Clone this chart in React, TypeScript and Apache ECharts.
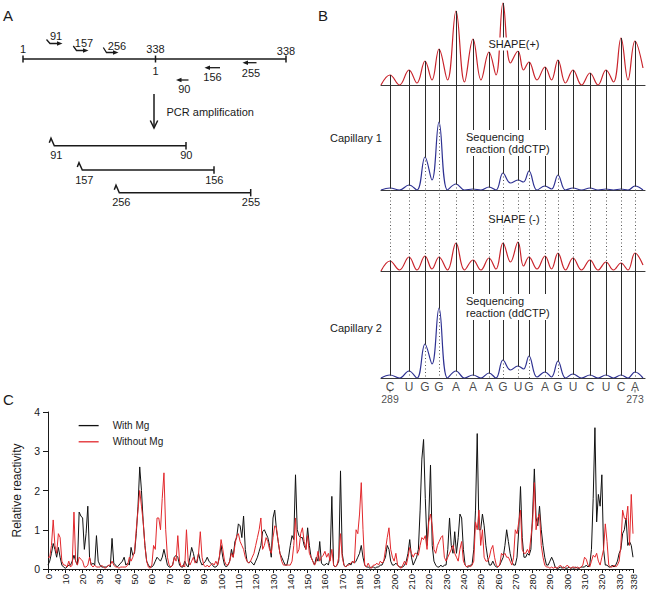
import React, { useEffect, useRef } from 'react';
import * as echarts from 'echarts';

const FONT = '"Liberation Sans", Arial, Helvetica, sans-serif';
const INK = '#1a1a1a';

// ---------------- Panel C data ----------------
const ntPositions: string[] = Array.from({ length: 339 }, (_, i) => String(i));
const xLabelTicks = [0, 10, 20, 30, 40, 50, 60, 70, 80, 90, 100, 110, 120, 130, 140, 150, 160, 170, 180, 190,
  200, 210, 220, 230, 240, 250, 260, 270, 280, 290, 300, 310, 320, 330, 338];
const legendNames = ['With Mg', 'Without Mg'];

const withMg = [
  0.1, 0.2, 0.4, 0.65, 0.5, 0.3, 0.55, 0.3, 0.1, 0.05,
  0.02, 0.05, 0.1, 0.1, 0.2, 0.35, 0.2, 0.1, 1.45, 1.35,
  1.3, 0.5, 0.9, 1.6, 0.3, 0.1, 0.15, 0.1, 0.85, 0.2,
  0.1, 0.05, 0.05, 0.05, 0.05, 0.1, 0.05, 0.78, 0.15, 0.1,
  0.05, 0.1, 0.15, 0.2, 0.3, 0.1, 0.15, 0.1, 0.55, 0.35,
  0.4, 0.9, 1.6, 2.6, 2.0, 1.2, 0.6, 0.2, 0.1, 0.05,
  0.05, 0.1, 0.2, 0.3, 0.25, 0.2, 0.3, 0.5, 0.3, 0.1,
  0.05, 0.05, 0.1, 0.3, 0.35, 0.3, 0.1, 0.05, 0.05, 0.2,
  0.1, 0.05, 0.3, 0.55, 0.4, 0.2, 0.15, 0.4, 0.2, 0.1,
  0.15, 0.2, 0.3, 0.2, 0.15, 0.1, 0.05, 0.05, 0.1, 0.3,
  0.6, 0.3, 0.1, 0.05, 0.1, 0.2, 0.5, 0.3, 0.7, 0.8,
  1.15, 1.1, 0.8, 1.35, 0.5, 0.2, 0.15, 0.2, 0.15, 0.1,
  0.2, 0.3, 0.45, 0.6, 0.95, 1.0, 0.9, 0.8, 0.6, 0.3,
  1.3, 1.5, 1.0, 0.7, 0.4, 0.3, 0.2, 0.1, 0.1, 0.3,
  0.6, 0.85, 0.75, 2.4, 1.0, 0.85, 0.8, 0.8, 0.6, 0.5,
  1.05, 0.6, 0.3, 0.2, 0.1, 0.3, 0.2, 0.7, 0.15, 0.1,
  0.1, 0.15, 0.1, 0.3, 1.85, 0.1, 0.05, 0.1, 0.2, 2.5,
  0.4, 0.1, 0.05, 0.1, 0.15, 0.1, 0.2, 0.15, 0.2, 0.3,
  0.4, 0.6, 0.3, 0.1, 0.05, 0.05, 0.02, 0.05, 0.05, 0.02,
  0.05, 0.05, 0.1, 0.1, 0.2, 0.3, 0.6, 0.5, 0.2, 0.1,
  0.1, 0.15, 0.1, 0.05, 0.05, 0.05, 0.1, 0.2, 0.4, 0.75,
  0.3, 0.1, 0.2, 0.3, 0.5, 1.5, 2.8, 3.3, 1.8, 0.6,
  1.3, 2.65, 0.6, 0.2, 0.1, 0.05, 0.05, 0.1, 0.05, 0.1,
  0.1, 0.5, 1.3, 0.6, 0.4, 0.95, 0.4, 0.8, 1.4, 1.3,
  0.5, 0.1, 0.05, 0.05, 0.1, 0.1, 0.5, 1.5, 3.45, 1.0,
  1.0, 1.4, 1.1, 0.6, 0.3, 0.1, 0.1, 0.2, 0.1, 0.05,
  0.05, 0.1, 0.2, 0.3, 0.6, 1.0, 0.7, 0.4, 0.2, 0.1,
  0.1, 0.3, 1.0, 2.1, 0.8, 0.3, 0.3, 0.4, 0.35, 0.5,
  1.4, 2.55, 1.3, 1.1, 1.6, 1.0, 0.6, 0.3, 0.1, 0.1,
  0.2, 0.3, 0.2, 0.05, 0.02, 0.02, 0.05, 0.02, 0.05, 0.02,
  0.02, 0.05, 0.02, 0.03, 0.02, 0.05, 0.02, 0.02, 0.05, 0.05,
  0.05, 0.1, 0.05, 0.1, 0.5, 1.8, 3.6, 1.2, 1.9, 1.6,
  2.4, 0.5, 0.1, 0.1, 0.05, 0.05, 0.1, 0.05, 0.1, 0.2,
  0.4, 0.5, 0.9, 1.0, 1.3, 0.6, 0.7, 0.6, 0.3,
];

const withoutMg = [
  0.3, 0.3, 0.6, 1.25, 0.6, 0.4, 0.9, 0.8, 0.2, 0.1,
  0.1, 0.05, 0.2, 0.05, 0.1, 1.45, 0.2, 0.1, 0.3, 0.25,
  0.2, 0.05, 0.05, 0.1, 0.3, 0.1, 0.05, 0.1, 0.05, 0.05,
  0.05, 0.1, 0.05, 0.02, 0.05, 0.1, 0.1, 0.2, 0.1, 0.05,
  0.05, 0.02, 0.05, 0.05, 0.05, 0.05, 0.1, 0.3, 0.2, 0.3,
  0.45, 1.0, 1.5, 2.0, 1.6, 1.2, 0.6, 0.2, 0.05, 0.02,
  0.1, 0.6, 0.5, 1.3, 1.3, 1.0, 1.8, 2.45, 1.0, 0.3,
  0.1, 0.05, 0.1, 0.3, 0.2, 0.85, 0.2, 0.05, 0.1, 0.05,
  1.0, 0.2, 0.1, 0.2, 0.3, 0.15, 0.2, 0.4, 0.95, 0.3,
  0.1, 0.05, 0.1, 0.05, 0.1, 0.15, 0.1, 0.2, 0.1, 0.3,
  0.75, 0.5, 0.2, 0.1, 0.1, 0.2, 0.4, 0.3, 0.6, 0.85,
  0.9, 0.7, 0.6, 0.5, 0.3, 0.2, 0.15, 0.2, 0.3, 0.4,
  0.6, 0.8, 1.0, 1.3, 0.5, 0.6, 0.8, 0.7, 0.5, 0.4,
  0.8, 1.1, 1.05, 0.7, 0.4, 0.2, 0.1, 0.1, 0.1, 0.1,
  0.1, 0.2, 0.6, 1.3, 0.4, 0.5, 0.9, 1.05, 0.7, 0.5,
  0.85, 0.4, 0.3, 0.2, 0.1, 0.2, 0.45, 0.2, 0.3, 0.35,
  0.45, 0.3, 0.4, 0.2, 0.5, 0.1, 0.05, 0.1, 0.3, 0.9,
  0.3, 0.1, 0.05, 0.1, 0.1, 0.15, 0.2, 0.15, 1.0, 0.9,
  1.4, 2.2, 1.0, 0.1, 0.05, 0.15, 0.05, 0.02, 0.1, 0.1,
  0.15, 0.1, 0.2, 0.15, 0.2, 0.5, 0.8, 1.05, 0.5, 0.3,
  0.2, 0.4, 0.1, 0.05, 0.02, 0.1, 0.2, 0.1, 0.3, 0.55,
  0.4, 0.3, 0.4, 0.4, 0.35, 0.6, 0.8, 0.75, 0.85, 0.5,
  1.2, 1.4, 1.1, 0.5, 0.4, 0.6, 0.7, 0.8, 0.85, 0.3,
  0.2, 0.3, 0.4, 0.5, 0.6, 0.4, 0.3, 0.2, 0.5, 0.7,
  0.2, 0.1, 0.05, 0.1, 0.05, 0.1, 0.2, 1.2, 1.0, 1.5,
  0.6, 1.0, 0.3, 0.2, 0.2, 0.3, 0.5, 0.6, 0.3, 0.1,
  0.05, 0.1, 0.4, 0.35, 0.4, 0.3, 0.3, 0.2, 0.1, 0.3,
  1.0, 0.9, 1.2, 1.5, 0.5, 0.4, 0.4, 0.5, 0.4, 0.8,
  1.2, 2.2, 1.0, 1.3, 1.4, 0.6, 0.3, 0.1, 0.05, 0.05,
  0.02, 0.05, 0.02, 0.05, 0.02, 0.05, 0.1, 0.05, 0.02, 0.05,
  0.1, 0.05, 0.02, 0.05, 0.05, 0.02, 0.05, 0.02, 0.05, 0.1,
  0.3, 0.25, 0.1, 0.05, 0.2, 0.35, 0.3, 0.4, 0.2, 0.1,
  0.3, 0.5, 1.15, 0.7, 0.1, 0.05, 0.05, 0.1, 0.05, 0.1,
  0.2, 0.6, 1.5, 1.3, 1.25, 1.6, 0.6, 1.9, 0.9,
];

// ---------------- Panel B data (elution position, peak heights) ----------------
const peakPos = [9, 28, 44, 58, 75, 92, 108, 122, 137, 148, 164, 177, 192, 209, 225, 240, 254];
const bases = ['C', 'U', 'G', 'G', 'A', 'A', 'A', 'G', 'U', 'G', 'A', 'G', 'U', 'C', 'U', 'C', 'A'];
const endLabels = ['289', '273'];
const shapePlusPeaks = [10, 15, 24, 36, 74, 46, 33, 82, 34, 23, 18, 25, 15, 12, 15, 47, 44];
const shapePlusValleys = [0, 2, 5, 5, 3, 5, 10, 22, 15, 5, 5, 2, 0, 0, 3, 5];
const cap1Peaks = [2, 5, 33, 68, 6, 1, 3, 17, 10, 19, 4, 15, 2, 2, 1, 1, 4];
const cap1Valleys = [0, 0, 10, 0, 0, 0, 0, 7, 8, 0, 1, 0, 0, 0, 0, 0];
const shapeMinusPeaks = [10, 14, 15, 14, 28, 11, 13, 28, 29, 14, 15, 18, 13, 11, 9, 8, 18];
const shapeMinusValleys = [1, 1, 2, 1, 1, 1, 2, 9, 5, 2, 2, 1, 1, 1, 1, 1];
const cap2Peaks = [3, 7, 34, 70, 7, 3, 5, 18, 12, 22, 6, 17, 4, 3, 3, 3, 6];
const cap2Valleys = [0, 0, 14, 0, 0, 0, 0, 8, 9, 1, 1, 0, 0, 0, 0, 0];
const traceEnds = [17, 0, 6, 0];

const TRACE_END = 262;
const B_RANGE = [83, 105, 81, 107];

function trace(peaks: number[], valleys: number[], endVal: number) {
  const pts: number[][] = [[0, 0]];
  peaks.forEach((h, i) => {
    pts.push([peakPos[i], h]);
    if (i < valleys.length) pts.push([(peakPos[i] + peakPos[i + 1]) / 2, valleys[i]]);
  });
  pts.push([TRACE_END, endVal]);
  return pts;
}

const SOLID = { color: '#2b2b2b', width: 1, type: 'solid' };
const DOTTED = { color: '#555555', width: 1, type: [1, 2.5] };
function seg(x: number, y1: number, y2: number, style: any) {
  return [{ coord: [x, y1], lineStyle: style }, { coord: [x, y2] }];
}
function markLines(data: any[]) {
  return {
    symbol: ['none', 'none'],
    silent: true,
    label: { show: false },
    emphasis: { disabled: true },
    lineStyle: SOLID,
    data,
  };
}

// ---------------- graphic helpers ----------------
function txt(x: number, y: number, text: string, o: any = {}) {
  const align = o.align || 'center';
  return {
    type: 'text', x, y, z: 100,
    style: {
      text, fill: INK, fontSize: o.size || 11, fontFamily: FONT,
      align, textAlign: align, verticalAlign: 'middle', textVerticalAlign: 'middle',
      backgroundColor: o.bg, padding: o.bg ? [1, 2] : 0, lineHeight: o.lh,
    },
  };
}
function ln(x1: number, y1: number, x2: number, y2: number, w = 1.5) {
  return { type: 'line', z: 100, shape: { x1, y1, x2, y2 }, style: { stroke: INK, lineWidth: w } };
}
function pl(points: number[][], w = 1.5) {
  return { type: 'polyline', z: 100, shape: { points }, style: { stroke: INK, lineWidth: w, fill: null } };
}
function pg(points: number[][]) {
  return { type: 'polygon', z: 100, shape: { points }, style: { fill: INK } };
}

const fragStart = [53.5, 81.5, 118.5];
const fragEnd = [186, 214, 250.7];
const fragY = [145.7, 170, 192.7];
const fragLabels = [['91', '90'], ['157', '156'], ['256', '255']];

function buildGraphics() {
  const els: any[] = [
    txt(3, 15.5, 'A', { size: 15, align: 'left' }),
    ln(23, 59, 286, 59),
    ln(23, 55.5, 23, 62.5), ln(155.5, 55.5, 155.5, 62.5), ln(286, 55.5, 286, 62.5),
    txt(23, 49, '1'), txt(155.5, 49, '338'), txt(286, 51, '338'), txt(155.5, 70.5, '1'),
    pl([[46.5, 39.5], [50, 43.5], [58, 43.5]], 1.3), pg([[57, 41.2], [62.5, 43.5], [57, 45.8]]), txt(56, 35.5, '91'),
    pl([[73.3, 46], [76.5, 50.5], [84, 50.5]], 1.3), pg([[83, 48.2], [88.5, 50.5], [83, 52.8]]), txt(84, 42.5, '157'),
    pl([[103.3, 47.5], [106.5, 52.5], [114, 52.5]], 1.3), pg([[113, 50.2], [118.5, 52.5], [113, 54.8]]), txt(117, 45.5, '256'),
    ln(209, 67.7, 220, 67.7, 1.3), pg([[204.5, 67.7], [210, 65.4], [210, 70]]), txt(212.5, 76.5, '156'),
    ln(247, 62.7, 256.5, 62.7, 1.3), pg([[242.5, 62.7], [248, 60.4], [248, 65]]), txt(251, 72.5, '255'),
    ln(180.5, 80, 188.5, 80, 1.3), pg([[176, 80], [181.5, 77.7], [181.5, 82.3]]), txt(184.3, 89, '90'),
    ln(154, 94, 154, 128), pl([[150.3, 120.5], [154, 128], [157.7, 120.5]]),
    txt(166.5, 112, 'PCR amplification', { align: 'left' }),
  ];
  fragStart.forEach((s, i) => {
    const e = fragEnd[i];
    const y = fragY[i];
    els.push(pl([[s - 4.2, y - 3], [s - 2.5, y - 7.4], [s + 0.8, y], [e, y]]));
    els.push(ln(e, y - 3.7, e, y + 3.7));
    els.push(txt(s + 2.8, y + 9.5, fragLabels[i][0]));
    els.push(txt(e + 0.3, y + 9.5, fragLabels[i][1]));
  });
  els.push(
    txt(318, 15.5, 'B', { size: 15, align: 'left' }),
    txt(514, 44, 'SHAPE(+)', { bg: '#fff' }),
    txt(330, 137.5, 'Capillary 1', { align: 'left' }),
    txt(464, 143, 'Sequencing\nreaction (ddCTP)', { align: 'left', bg: '#fff', lh: 12 }),
    txt(514, 219, 'SHAPE (-)', { bg: '#fff' }),
    txt(330, 327.5, 'Capillary 2', { align: 'left' }),
    txt(464, 307, 'Sequencing\nreaction (ddCTP)', { align: 'left', bg: '#fff', lh: 12 }),
    txt(3, 399, 'C', { size: 15, align: 'left' }),
  );
  return els;
}

function buildOption() {
  const bTops = [2, 85, 190, 271];
  const grids: any[] = bTops.map((top, i) => ({
    left: 381, top, width: 264, height: B_RANGE[i], outerBoundsMode: 'none', containLabel: false,
  }));
  grids.push({ left: 48, top: 412, right: 13, height: 157, outerBoundsMode: 'none', containLabel: false });

  const xAxes: any[] = bTops.map((_, i) => ({
    type: 'value', gridIndex: i, min: 0, max: 264,
    axisLine: { show: true, onZero: false, lineStyle: { color: '#3a3a3a', width: 1.1 } },
    axisTick: { show: false }, axisLabel: { show: false }, splitLine: { show: false },
  }));
  const yAxes: any[] = bTops.map((_, i) => ({
    type: 'value', gridIndex: i, min: 0, max: B_RANGE[i], show: false, splitLine: { show: false },
  }));

  const labelSet = new Set(xLabelTicks);
  xAxes.push({
    type: 'category', gridIndex: 4, data: ntPositions, boundaryGap: false,
    axisLine: { show: true, lineStyle: { color: INK, width: 1 } },
    axisTick: { show: true, length: 4, interval: (i: number) => labelSet.has(i), lineStyle: { color: INK } },
    axisLabel: {
      show: true, interval: (i: number) => labelSet.has(i), rotate: 90, fontSize: 9.5,
      color: INK, margin: 5, fontFamily: FONT,
    },
    splitLine: { show: false },
  });
  xAxes.push({
    type: 'category', gridIndex: 4, data: ntPositions, boundaryGap: false, position: 'bottom',
    axisLine: { show: false },
    axisTick: { show: true, length: 2, interval: (i: number) => i % 2 === 0, lineStyle: { color: INK } },
    axisLabel: { show: false }, splitLine: { show: false },
  });
  yAxes.push({
    type: 'value', gridIndex: 4, min: 0, max: 4, interval: 1,
    axisLine: { show: true, lineStyle: { color: INK, width: 1 } },
    axisTick: { show: true, length: 5, lineStyle: { color: INK } },
    axisLabel: { fontSize: 10.5, color: INK, margin: 8, fontFamily: FONT },
    splitLine: { show: false },
    name: 'Relative reactivity', nameLocation: 'middle', nameGap: 22,
    nameTextStyle: { fontSize: 12, color: INK, fontFamily: FONT },
  });

  const RED_B = '#c9232b';
  const BLUE_B = '#2e3192';
  const bTraces = [
    { peaks: shapePlusPeaks, valleys: shapePlusValleys, color: RED_B },
    { peaks: cap1Peaks, valleys: cap1Valleys, color: BLUE_B },
    { peaks: shapeMinusPeaks, valleys: shapeMinusValleys, color: RED_B },
    { peaks: cap2Peaks, valleys: cap2Valleys, color: BLUE_B },
  ];
  const connectors = [
    peakPos.map((x, i) => seg(x, shapePlusPeaks[i], 0, SOLID)),
    peakPos.flatMap((x, i) => [seg(x, B_RANGE[1], cap1Peaks[i], SOLID), seg(x, cap1Peaks[i], 0, DOTTED)]),
    peakPos.flatMap((x, i) => [seg(x, B_RANGE[2], shapeMinusPeaks[i], DOTTED), seg(x, shapeMinusPeaks[i], 0, SOLID)]),
    peakPos.flatMap((x, i) => [seg(x, B_RANGE[3], cap2Peaks[i], SOLID), seg(x, cap2Peaks[i], 0, DOTTED)]),
  ];

  const series: any[] = bTraces.map((t, i) => ({
    type: 'line', xAxisIndex: i, yAxisIndex: i,
    data: trace(t.peaks, t.valleys, traceEnds[i]),
    smooth: 0.4, symbol: 'none', silent: true,
    lineStyle: { color: t.color, width: 1.2 },
    itemStyle: { color: t.color },
    markLine: markLines(connectors[i]),
    z: 3,
  }));

  series.push({
    type: 'scatter', xAxisIndex: 3, yAxisIndex: 3, silent: true, clip: false,
    data: peakPos.map((x) => [x, 0]), symbolSize: 0.1,
    itemStyle: { color: 'rgba(0,0,0,0)' },
    label: {
      show: true, position: 'bottom', distance: 3, fontSize: 12, color: INK, fontFamily: FONT,
      formatter: (p: any) => bases[p.dataIndex],
    },
  });
  series.push({
    type: 'scatter', xAxisIndex: 3, yAxisIndex: 3, silent: true, clip: false,
    data: [[peakPos[0], 0], [peakPos[peakPos.length - 1], 0]],
    symbol: 'rect', symbolSize: [0.9, 3], symbolOffset: [0, 13],
    itemStyle: { color: '#333' },
    label: {
      show: true, position: 'bottom', distance: 0.5, fontSize: 10.5, color: INK, fontFamily: FONT,
      formatter: (p: any) => endLabels[p.dataIndex],
    },
  });

  series.push({
    name: legendNames[0], type: 'line', xAxisIndex: 4, yAxisIndex: 4, data: withMg,
    symbol: 'none', lineStyle: { color: '#111111', width: 1 }, itemStyle: { color: '#111111' }, z: 4,
  });
  series.push({
    name: legendNames[1], type: 'line', xAxisIndex: 4, yAxisIndex: 4, data: withoutMg,
    symbol: 'none', lineStyle: { color: '#e2282c', width: 1 }, itemStyle: { color: '#e2282c' }, z: 5,
  });

  return {
    animation: false,
    backgroundColor: '#ffffff',
    textStyle: { fontFamily: FONT },
    grid: grids,
    xAxis: xAxes,
    yAxis: yAxes,
    legend: {
      data: legendNames, orient: 'vertical', left: 78, top: 420, padding: 0,
      itemWidth: 20, itemHeight: 14, itemGap: 5, selectedMode: false,
      itemStyle: { opacity: 0, borderWidth: 0 },
      lineStyle: { width: 1.3 },
      textStyle: { fontSize: 10, color: INK, fontFamily: FONT, padding: [0, 0, 0, 9] },
    },
    tooltip: { show: false },
    series,
    graphic: { elements: buildGraphics() },
  };
}

export default function App() {
  const ref = useRef<HTMLDivElement>(null);
  useEffect(() => {
    if (!ref.current) return;
    const chart = echarts.init(ref.current, undefined, { renderer: 'svg' });
    chart.setOption(buildOption() as any);
    return () => chart.dispose();
  }, []);
  return (
    <div
      ref={ref}
      style={{ position: 'absolute', left: 0, top: 0, width: 646, height: 598, background: '#fff' }}
    />
  );
}
